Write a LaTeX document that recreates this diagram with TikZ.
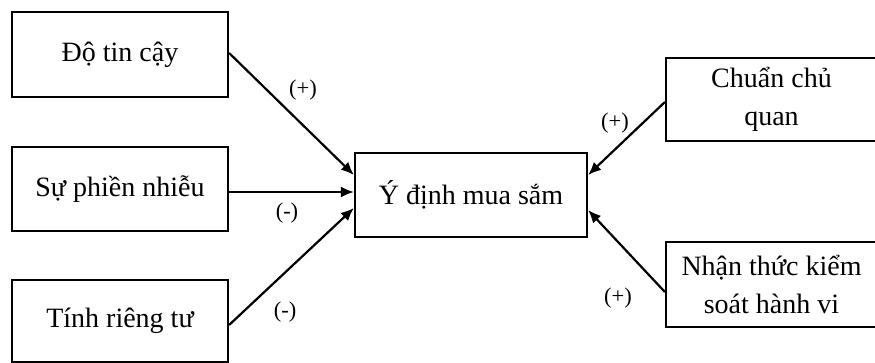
\documentclass[tikz,border=0pt]{standalone}
\usepackage{fontspec}
\setmainfont{Liberation Serif}
\usetikzlibrary{arrows.meta,calc}
\begin{document}
\begin{tikzpicture}[x=1pt,y=-1pt,
  box/.style={draw=black,line width=2.2pt,fill=white,inner sep=0pt,align=center,
    font=\fontsize{28}{38}\selectfont},
  arr/.style={line width=2.2pt,-{Latex[length=13pt,width=11pt]}},
  lbl/.style={font=\fontsize{22.5}{26}\selectfont,inner sep=0pt}]
\useasboundingbox (0,0) rectangle (875,363);
\node[box,minimum width=216pt,minimum height=85pt] (b1) at (120,54.5) {Độ tin cậy};
\node[box,minimum width=216pt,minimum height=84pt] (b2) at (120,189) {Sự phiền nhiễu};
\node[box,minimum width=216pt,minimum height=82pt] (b3) at (120,321) {Tính riêng tư};
\node[box,minimum width=232pt,minimum height=84pt] (c) at (471,195) {Ý định mua sắm};
\node[box,minimum width=211pt,minimum height=83pt] (ch) at (771.5,99.5) {Chuẩn chủ\\quan};
\node[box,minimum width=211pt,minimum height=85pt] (nh) at (771.5,284.5) {Nhận thức kiểm\\soát hành vi};
\draw[arr] ($(b1.east)+(0,-1.5)$) -- ($(c.west)+(0,-20)$);
\draw[arr] ($(b2.east)+(0,3)$) -- ($(c.west)+(0,-3)$);
\draw[arr] ($(b3.east)+(0,4)$) -- ($(c.west)+(0,13)$);
\draw[arr] ($(ch.west)+(0,2.5)$) -- ($(c.east)+(0,-20)$);
\draw[arr] ($(nh.west)+(0,7.5)$) -- ($(c.east)+(0,15)$);
\node[lbl] (l1) at (303,90) {(+)};
\node[lbl] (l2) at (287,213) {(-)};
\node[lbl] (l3) at (285,312) {(-)};
\node[lbl] (l4) at (615,123) {(+)};
\node[lbl] (l5) at (618,298) {(+)};
\end{tikzpicture}
\end{document}
